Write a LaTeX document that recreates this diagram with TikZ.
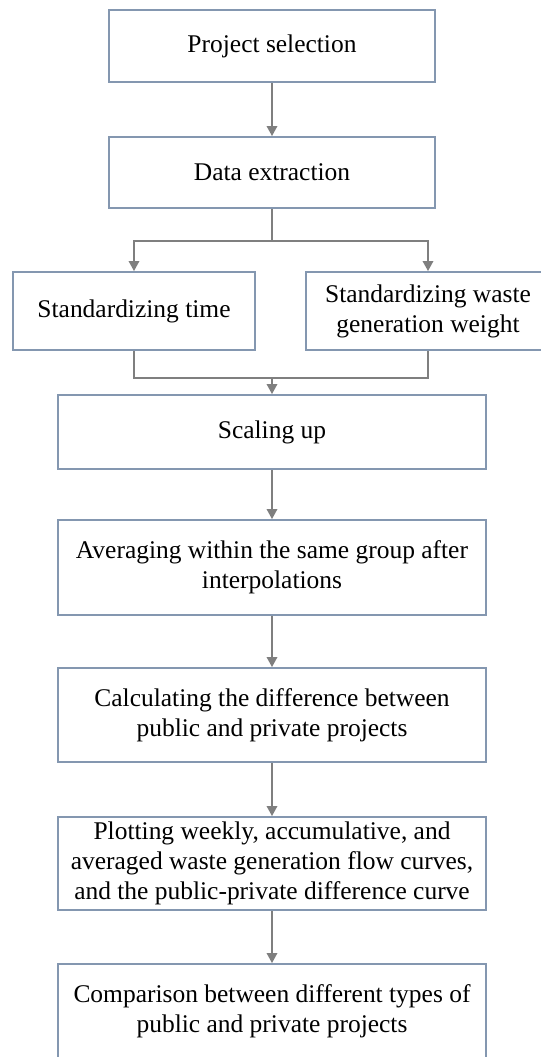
\documentclass[tikz,border=0pt]{standalone}
\usepackage{fontspec}
\setmainfont{Liberation Serif}
\usetikzlibrary{arrows.meta}
\definecolor{boxline}{HTML}{8497B0}
\definecolor{connline}{HTML}{7F7F7F}
\begin{document}
\begin{tikzpicture}[x=0.75pt,y=-0.75pt,
  box/.style={draw=boxline,line width=1.5pt,fill=white,inner sep=0pt,align=center,
    font=\fontsize{19.1}{22.5}\selectfont},
  conn/.style={draw=connline,line width=1pt},
  arr/.style={conn,-{Triangle[length=7.5pt,width=8pt]}}]
\useasboundingbox (0,0) rectangle (540,1057);
\fill[white] (0,0) rectangle (540,1057);
% top boxes
\node[box,minimum width=244.5pt,minimum height=54pt] (b1) at (272,46) {Project selection};
\node[box,minimum width=244.5pt,minimum height=53.25pt] (b2) at (272,172.5) {Data extraction};
% split boxes
\node[box,minimum width=181.5pt,minimum height=58.5pt] (left) at (134,311) {Standardizing time};
\node[box,minimum width=183pt,minimum height=58.5pt] (right) at (428,311) {Standardizing waste\\generation weight};
% middle boxes
\node[box,minimum width=321pt,minimum height=55.5pt] (scale) at (272,432) {Scaling up};
\node[box,minimum width=321pt,minimum height=71.25pt] (avg) at (272,567.5) {Averaging within the same group after\\interpolations};
\node[box,minimum width=321pt,minimum height=70.5pt] (calc) at (272,715) {Calculating the difference between\\public and private projects};
\node[box,minimum width=321pt,minimum height=69.75pt] (plot) at (272,863.5) {Plotting weekly, accumulative, and\\averaged waste generation flow curves,\\and the public-private difference curve};
\node[box,minimum width=321pt,minimum height=71.25pt] (comp) at (272,1011.5) {Comparison between different types of\\public and private projects};
% connectors
\coordinate (split) at (272,241);
\coordinate (merge) at (272,378);
\draw[arr] (b1.south) -- (b2.north);
\draw[conn] (b2.south) -- (split);
\draw[arr] (split) -| (left.north);
\draw[arr] (split) -| (right.north);
\draw[conn] (left.south) |- (merge) -| (right.south);
\draw[arr] (merge) -- (scale.north);
\draw[arr] (scale.south) -- (avg.north);
\draw[arr] (avg.south) -- (calc.north);
\draw[arr] (calc.south) -- (plot.north);
\draw[arr] (plot.south) -- (comp.north);
\end{tikzpicture}
\end{document}
